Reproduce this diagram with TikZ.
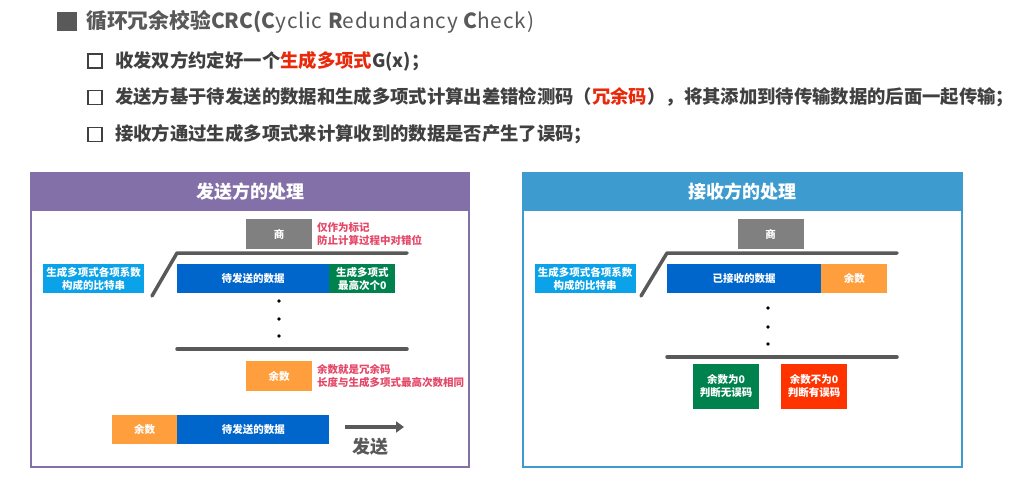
\documentclass[tikz,border=0pt]{standalone}
\usepackage{fontspec}
\setmainfont{Noto Sans CJK SC}
\usetikzlibrary{arrows.meta}
\definecolor{crcgray}{RGB}{89,89,89}
\definecolor{crctext}{RGB}{64,64,64}
\definecolor{crcred}{RGB}{232,41,11}
\definecolor{crcpurple}{RGB}{132,112,168}
\definecolor{crcsky}{RGB}{61,155,208}
\definecolor{crcblue}{RGB}{0,102,204}
\definecolor{crclight}{RGB}{10,162,232}
\definecolor{crcgreen}{RGB}{0,130,78}
\definecolor{crcorange}{RGB}{255,158,61}
\definecolor{crcbox}{RGB}{128,128,128}
\definecolor{crcalarm}{RGB}{255,51,0}
\definecolor{crcnote}{RGB}{228,72,104}
\newcommand{\crcred}[1]{\textcolor{crcred}{\bfseries #1}}

\begin{document}
\begin{tikzpicture}[x=1pt, y=-1pt,
  blk/.style={draw=none, inner sep=0pt, minimum height=29pt, text=white,
              font=\fontsize{10.5}{13}\selectfont\bfseries, align=center},
  data/.style={blk, fill=crcblue},
  poly/.style={blk, fill=crclight, minimum width=101pt},
  rem/.style={blk, fill=crcorange},
  quot/.style={blk, fill=crcbox, minimum width=66pt, minimum height=30pt},
  verdict/.style={blk, minimum width=66pt, minimum height=45pt},
  note/.style={font=\fontsize{10.5}{13}\selectfont\bfseries, text=crcnote, anchor=west,
               align=left, inner sep=0pt},
  bar/.style={line width=3.5pt, crcgray, line cap=round, line join=round},
  pt/.style={circle, fill=black, inner sep=0pt, minimum size=3.6pt},
  item/.style={font=\fontsize{18.35}{20}\selectfont\bfseries, text=crctext,
               anchor=west, inner sep=0pt},
  panel/.style={draw=#1, line width=2pt},
  head/.style={font=\fontsize{18}{20}\selectfont\bfseries, text=white}]
\useasboundingbox (0,0) rectangle (1029,484);

% heading and the three points
\fill[crcgray] (57,12) rectangle (77,31);
\node[item, font=\fontsize{20.8}{22}\selectfont, text=crcgray] (title) at (86,21.5)
  {\bfseries 循环冗余校验CRC(C\mdseries\addfontfeature{LetterSpace=4} yclic \bfseries R\mdseries\addfontfeature{LetterSpace=4} edundancy \bfseries C\mdseries\addfontfeature{LetterSpace=4} heck)};
\foreach \y/\n in {61/a, 97.5/b, 134.5/c}
  \draw[crctext, line width=1.6pt] (88,\y-7) rectangle (102,\y+7) coordinate (cb\n);
\node[item] (p1) at (115,61) {收发双方约定好一个\crcred{生成多项式}G(x)；};
\node[item] (p2) at (115,97.5) {发送方基于待发送的数据和生成多项式计算出差错检测码（\crcred{冗余码}），将其添加到待传输数据的后面一起传输；};
\node[item] (p3) at (115,134.5) {接收方通过生成多项式来计算收到的数据是否产生了误码；};

% sender
\fill[crcpurple] (31,173) rectangle (469,211);
\draw[panel=crcpurple] (31,173) rectangle (469,467);
\node[head] (shead) at (250,192) {发送方的处理};
\node[quot] (squot) at (279,234) {商};
\node[note] (snote1) at (317,234) {仅作为标记\\防止计算过程中对错位};
\coordinate (sl0) at (152,296); \coordinate (sl1) at (177,253); \coordinate (sl2) at (407,253);
\draw[bar] (sl0) -- (sl1) -- (sl2);
\node[poly] (spoly) at (93.5,278.5) {生成多项式各项系数\\构成的比特串};
\node[data, minimum width=152pt] (sdata) at (253,278.5) {待发送的数据};
\node[blk, fill=crcgreen, minimum width=66pt, anchor=west] (szero) at (sdata.east) {生成多项式\\最高次个0};
\foreach \y [count=\i] in {301,319,336}
  \node[pt] (sdot\i) at (279,\y) {};
\coordinate (sb1) at (177,349); \coordinate (sb2) at (407,349);
\draw[bar] (sb1) -- (sb2);
\node[rem, minimum width=66pt, minimum height=30pt] (srem) at (279,376) {余数};
\node[note] (snote2) at (317,376) {余数就是冗余码\\长度与生成多项式最高次数相同};
\node[rem, minimum width=65pt] (sendrem) at (144.5,429.5) {余数};
\node[data, minimum width=152pt, anchor=west] (senddata) at (sendrem.east) {待发送的数据};
\coordinate (sa1) at (345,427); \coordinate (sa2) at (404,427);
\draw[crcgray, line width=3.5pt, -{Triangle[length=8pt,width=11pt]}] (sa1) -- (sa2);
\node[font=\fontsize{18}{20}\selectfont\bfseries, text=crcgray] (send) at (370,447) {发送};

% receiver
\fill[crcsky] (523,173) rectangle (962,211);
\draw[panel=crcsky] (523,173) rectangle (962,467);
\node[head] (rhead) at (742,192) {接收方的处理};
\node[quot] (rquot) at (770.5,234) {商};
\coordinate (rl0) at (641,296); \coordinate (rl1) at (667,253); \coordinate (rl2) at (897,253);
\draw[bar] (rl0) -- (rl1) -- (rl2);
\node[poly] (rpoly) at (585,278.5) {生成多项式各项系数\\构成的比特串};
\node[data, minimum width=154pt] (rdata) at (744,278.5) {已接收的数据};
\node[rem, minimum width=66pt, anchor=west] (rrem) at (rdata.east) {余数};
\foreach \y [count=\i] in {308,327,344}
  \node[pt] (rdot\i) at (768,\y) {};
\coordinate (rb1) at (667,357); \coordinate (rb2) at (897,357);
\draw[bar] (rb1) -- (rb2);
\node[verdict, fill=crcgreen] (rok) at (726,386.5) {余数为0\\判断无误码};
\node[verdict, fill=crcalarm] (rbad) at (814,386.5) {余数不为0\\判断有误码};
\end{tikzpicture}
\end{document}
